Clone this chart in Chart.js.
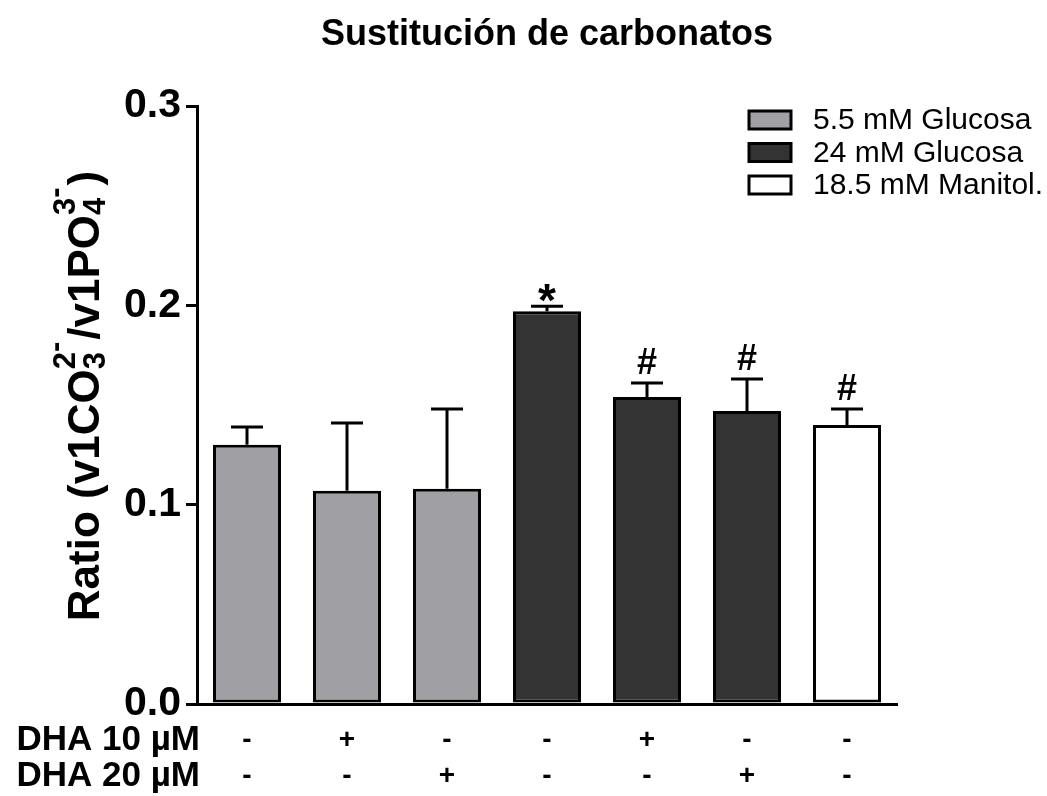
<!doctype html>
<html lang="en">
<head>
<meta charset="utf-8">
<title>Sustitución de carbonatos</title>
<style>
  * { margin: 0; padding: 0; }
  body { background: #fff; width: 1047px; height: 796px; overflow: hidden; }
</style>
</head>
<body>
<canvas id="myChart" width="1047" height="796"></canvas>
<script src="https://cdn.jsdelivr.net/npm/chart.js/dist/chart.umd.min.js"></script>
<script>
// data
const groups = ['5.5 mM Glucosa', '5.5 mM Glucosa', '5.5 mM Glucosa', '24 mM Glucosa', '24 mM Glucosa', '24 mM Glucosa', '18.5 mM Manitol.'];
const dha10 = ['-', '+', '-', '-', '+', '-', '-'];
const dha20 = ['-', '-', '+', '-', '-', '+', '-'];
const ratio = [0.130, 0.107, 0.108, 0.197, 0.154, 0.147, 0.140];
const sem = [0.009, 0.034, 0.040, 0.0025, 0.007, 0.016, 0.008];
const marks = ['', '', '', '*', '#', '#', '#'];
const yTicks = [0, 0.1, 0.2, 0.3];
const legendItems = ['5.5 mM Glucosa', '24 mM Glucosa', '18.5 mM Manitol.'];
const rowLabels = ['DHA 10 \u00b5M', 'DHA 20 \u00b5M'];

const groupColor = {
  '5.5 mM Glucosa': '#a09fa4',
  '24 mM Glucosa': '#333333',
  '18.5 mM Manitol.': '#ffffff'
};
const FONT = '"Liberation Sans", Arial, sans-serif';
const LINE_H = 36;
const X_PAD = 18;

// error bars + significance marks
const errorBars = {
  id: 'errorBars',
  afterDatasetsDraw(chart) {
    const { ctx, scales: { y } } = chart;
    const meta = chart.getDatasetMeta(0);
    ctx.save();
    ctx.strokeStyle = '#000';
    ctx.lineWidth = 3;
    meta.data.forEach((bar, i) => {
      const yBar = y.getPixelForValue(ratio[i]);
      const yTop = y.getPixelForValue(ratio[i] + sem[i]);
      ctx.beginPath();
      ctx.moveTo(bar.x, yBar);
      ctx.lineTo(bar.x, yTop);
      ctx.moveTo(bar.x - 16, yTop);
      ctx.lineTo(bar.x + 16, yTop);
      ctx.stroke();

      if (marks[i]) {
        ctx.fillStyle = '#000';
        ctx.textAlign = 'center';
        ctx.textBaseline = 'alphabetic';
        if (marks[i] === '*') {
          ctx.font = 'bold 46px ' + FONT;
          ctx.fillText('*', bar.x, yTop + 10);
        } else {
          ctx.font = 'bold 36px ' + FONT;
          ctx.fillText(marks[i], bar.x, yTop - 9);
        }
      }
    });
    ctx.restore();
  }
};

// title, legend, axis title, row labels
const decorations = {
  id: 'decorations',
  afterDraw(chart) {
    const { ctx, chartArea: { left, right }, scales: { x } } = chart;
    ctx.save();
    ctx.fillStyle = '#000';

    // title
    ctx.font = 'bold 36px ' + FONT;
    ctx.textAlign = 'center';
    ctx.textBaseline = 'middle';
    ctx.fillText('Sustitución de carbonatos', (left + right) / 2, 35);

    // legend
    ctx.font = '30px ' + FONT;
    ctx.textAlign = 'left';
    legendItems.forEach((item, i) => {
      const cy = 120 + i * 32.5;
      ctx.fillStyle = groupColor[item];
      ctx.fillRect(749, cy - 9, 42, 18);
      ctx.strokeStyle = '#000';
      ctx.lineWidth = 3;
      ctx.strokeRect(749, cy - 9, 42, 18);
      ctx.fillStyle = '#000';
      ctx.fillText(item, 813, cy + 1);
    });

    // row labels for the DHA rows
    ctx.font = 'bold 35px ' + FONT;
    ctx.textAlign = 'right';
    rowLabels.forEach((lab, i) => {
      ctx.fillText(lab, 200, x.top + X_PAD + LINE_H / 2 + i * LINE_H);
    });

    // y axis title with sub/superscripts
    const big = 'bold 44px ' + FONT;
    const small = 'bold 31px ' + FONT;
    const parts = [
      { t: 'Ratio (v1CO', f: big },
      { sub: '3', sup: '2' },
      { t: '/v1PO', f: big },
      { sub: '4', sup: '3' },
      { t: ')', f: big }
    ];
    const widthOf = p => {
      if (p.t) { ctx.font = p.f; return ctx.measureText(p.t).width; }
      ctx.font = small;
      return Math.max(ctx.measureText(p.sub).width, ctx.measureText(p.sup + '-').width) + 2;
    };
    const total = parts.reduce((s, p) => s + widthOf(p), 0);
    ctx.translate(99, 396);
    ctx.rotate(-Math.PI / 2);
    ctx.textAlign = 'left';
    ctx.textBaseline = 'alphabetic';
    let cx = -total / 2;
    parts.forEach(p => {
      const w = widthOf(p);
      if (p.t) {
        ctx.font = p.f;
        ctx.fillText(p.t, cx, 0);
      } else {
        ctx.font = small;
        ctx.fillText(p.sub, cx, 6);
        ctx.fillText(p.sup, cx, -24);
        const sw = ctx.measureText(p.sup).width;
        ctx.fillText('-', cx + sw, -34);
      }
      cx += w;
    });
    ctx.restore();
  }
};

const data = {
  labels: dha10.map((a, i) => [a, dha20[i]]),
  datasets: [{
    data: ratio,
    backgroundColor: groups.map(g => groupColor[g]),
    borderColor: '#000',
    borderWidth: 3,
    borderSkipped: false,
    barPercentage: 0.68,
    categoryPercentage: 1
  }]
};

const config = {
  type: 'bar',
  data,
  options: {
    responsive: false,
    animation: false,
    events: [],
    layout: { padding: { left: 0, right: 150, top: 106, bottom: 0 } },
    plugins: {
      legend: { display: false },
      title: { display: false },
      tooltip: { enabled: false }
    },
    scales: {
      x: {
        grid: { display: false, drawTicks: false },
        border: { display: true, color: '#000', width: 3 },
        ticks: {
          color: '#000',
          font: { family: FONT, size: 28, weight: 'bold', lineHeight: LINE_H / 28 },
          padding: X_PAD,
          maxRotation: 0,
          autoSkip: false
        },
        afterFit(scale) { scale.height = 92; }
      },
      y: {
        min: 0,
        max: 0.3,
        afterBuildTicks(scale) { scale.ticks = yTicks.map(v => ({ value: v })); },
        grid: { drawOnChartArea: false, drawTicks: true, tickLength: 11, color: '#000', lineWidth: 3 },
        border: { display: true, color: '#000', width: 3 },
        ticks: {
          color: '#000',
          font: { family: FONT, size: 41, weight: 'bold' },
          padding: 5,
          callback: v => v.toFixed(1)
        },
        afterFit(scale) { scale.width = 197; }
      }
    }
  },
  plugins: [errorBars, decorations]
};

const myChart = new Chart(document.getElementById('myChart'), config);
</script>
</body>
</html>
